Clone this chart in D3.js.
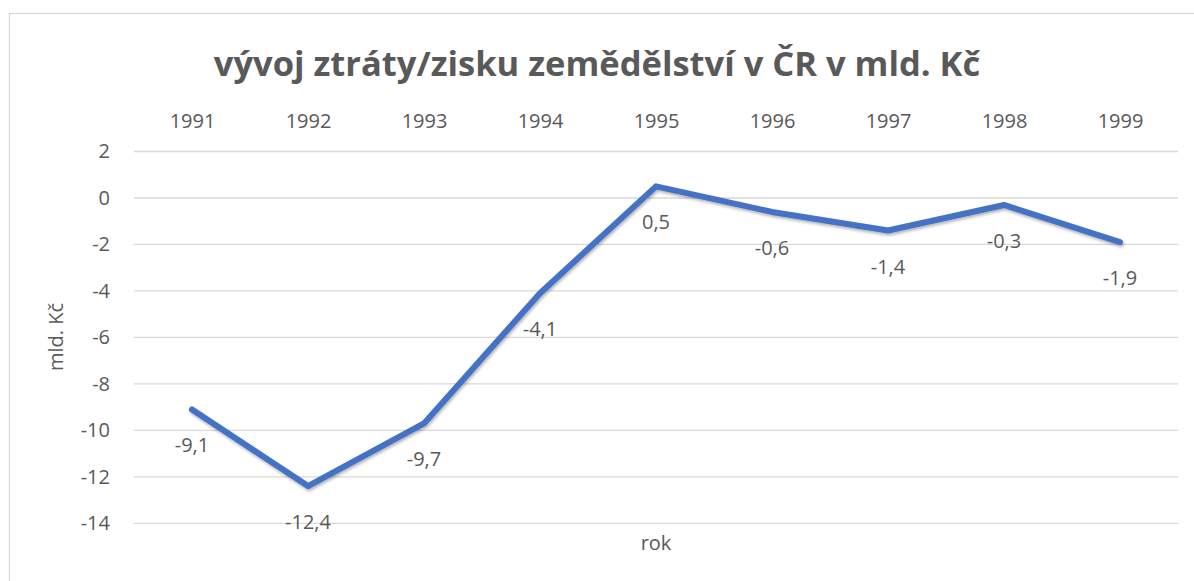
<!DOCTYPE html>
<html>
<head>
<meta charset="utf-8">
<script src="https://cdn.jsdelivr.net/npm/d3@7"></script>
<style>
  body { margin: 0; background: #fff; }
  svg text { font-family: "Open Sans", "Noto Sans", sans-serif; fill: #595959; }
</style>
</head>
<body>
<div id="chart"></div>
<script>
// data
var years = ["1991", "1992", "1993", "1994", "1995", "1996", "1997", "1998", "1999"];
var values = [-9.1, -12.4, -9.7, -4.1, 0.5, -0.6, -1.4, -0.3, -1.9];
var yTicks = [2, 0, -2, -4, -6, -8, -10, -12, -14];

var width = 1194, height = 581;
var margin = { top: 151.5, right: 16, bottom: 58, left: 134 };
var fontSize = "20px";

var svg = d3.select("#chart").append("svg")
    .attr("width", width)
    .attr("height", height);

// outer chart border
svg.append("rect")
    .attr("x", 9.5).attr("y", 13.5)
    .attr("width", width).attr("height", height)
    .attr("fill", "none")
    .attr("stroke", "#d9d9d9")
    .attr("stroke-width", 1.3);

var x = d3.scalePoint()
    .domain(years)
    .range([margin.left, width - margin.right])
    .padding(0.5);

var y = d3.scaleLinear()
    .domain([-14, 2])
    .range([523.3, margin.top]);

// gridlines
svg.append("g")
    .selectAll("line")
    .data(yTicks)
    .enter().append("line")
    .attr("x1", margin.left)
    .attr("x2", width - margin.right)
    .attr("y1", function(d) { return y(d); })
    .attr("y2", function(d) { return y(d); })
    .attr("stroke", "#d9d9d9")
    .attr("stroke-width", 1.3);

// y axis labels
var yAxis = svg.append("g")
    .attr("transform", "translate(110,0)")
    .call(d3.axisLeft(y).tickValues(yTicks).tickSize(0).tickPadding(0)
        .tickFormat(function(d) { return String(d); }));
yAxis.select(".domain").remove();
yAxis.selectAll("text")
    .style("font-size", fontSize)
    .attr("fill", "#595959");

// x axis labels on top
var xAxis = svg.append("g")
    .attr("transform", "translate(0,128)")
    .call(d3.axisTop(x).tickSize(0).tickPadding(0));
xAxis.select(".domain").remove();
xAxis.selectAll("text")
    .style("font-size", fontSize)
    .attr("fill", "#595959");

// title
svg.append("text")
    .attr("x", 597)
    .attr("y", 76)
    .attr("text-anchor", "middle")
    .style("font-size", "34.5px")
    .style("font-weight", "bold")
    .text("vývoj ztráty/zisku zemědělství v ČR v mld. Kč");

// axis titles
svg.append("text")
    .attr("transform", "translate(63,337) rotate(-90)")
    .attr("text-anchor", "middle")
    .style("font-size", fontSize)
    .text("mld. Kč");

svg.append("text")
    .attr("x", 656)
    .attr("y", 550)
    .attr("text-anchor", "middle")
    .style("font-size", fontSize)
    .text("rok");

// shadow
var defs = svg.append("defs");
var filter = defs.append("filter").attr("id", "shadow")
    .attr("x", "-5%").attr("y", "-5%").attr("width", "110%").attr("height", "120%");
filter.append("feDropShadow")
    .attr("dx", 1).attr("dy", 2).attr("stdDeviation", 1.5)
    .attr("flood-color", "#000").attr("flood-opacity", 0.3);

var line = d3.line()
    .x(function(d, i) { return x(years[i]); })
    .y(function(d) { return y(d); });

svg.append("path")
    .datum(values)
    .attr("d", line)
    .attr("fill", "none")
    .attr("stroke", "#4472c4")
    .attr("stroke-width", 6)
    .attr("stroke-linejoin", "round")
    .attr("stroke-linecap", "round")
    .attr("filter", "url(#shadow)");

// data labels
svg.append("g")
    .selectAll("text")
    .data(values)
    .enter().append("text")
    .attr("x", function(d, i) { return x(years[i]); })
    .attr("y", function(d) { return y(d) + 43; })
    .attr("text-anchor", "middle")
    .style("font-size", fontSize)
    .attr("fill", "#404040")
    .text(function(d) { return String(d).replace(".", ","); });
</script>
</body>
</html>
